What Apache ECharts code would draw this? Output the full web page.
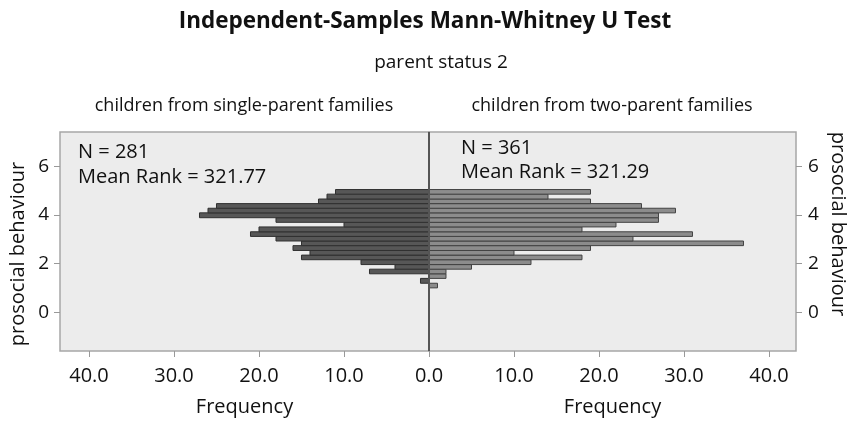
<!DOCTYPE html>
<html>
<head>
<meta charset="utf-8">
<script src="https://cdn.jsdelivr.net/npm/echarts@6/dist/echarts.min.js"></script>
<style>html,body{margin:0;padding:0;background:#fff}#c{width:851px;height:423px}</style>
</head>
<body>
<div id="c"></div>
<script>
// bin edges of prosocial behaviour (bottom to top)
const binEdges = [1.00,1.19,1.39,1.58,1.77,1.96,2.16,2.35,2.54,2.74,2.93,3.12,3.31,3.51,3.70,3.89,4.09,4.28,4.47,4.66,4.86,5.05];
// frequencies per bin (bottom to top)
const singleParent = [0,1,0,7,4,8,15,14,16,15,18,21,20,10,18,27,26,25,13,12,11];
const twoParent    = [1,0,2,2,5,12,18,10,19,37,24,31,18,22,27,27,29,25,19,14,19];
const xTicks = [0,10,20,30,40];
const yTicks = [0,2,4,6];
const groupNames = ['children from single-parent families','children from two-parent families'];
const groupN = [281,361];
const groupMeanRank = ['321.77','321.29'];

const FONT = 'Open Sans';
const chart = echarts.init(document.getElementById('c'));

function mk(counts){
  return counts.map((c,i)=>[c, binEdges[i], binEdges[i+1]]);
}
function rend(fill, stroke){
  return function(params, api){
    const c = api.value(0), lo = api.value(1), hi = api.value(2);
    const p0 = api.coord([0, hi]);
    const p1 = api.coord([c, lo]);
    return {
      type:'rect',
      shape:{x:Math.min(p0[0],p1[0]), y:p0[1], width:Math.abs(p1[0]-p0[0]), height:p1[1]-p0[1]},
      style:{fill:fill, stroke:stroke, lineWidth:1}
    };
  };
}
const yMin = -1.6, yMax = 7.42;
const axCommonY = {
  type:'value', min:yMin, max:yMax,
  splitLine:{show:false}, axisLine:{show:false, onZero:false},
  axisTick:{show:true, length:6, customValues:yTicks, lineStyle:{color:'#999'}},
  axisLabel:{customValues:yTicks, fontFamily:FONT, fontSize:19, color:'#111'}
};
const axCommonX = {
  type:'value', min:0,
  splitLine:{show:false}, axisLine:{show:false, onZero:false},
  axisTick:{show:true, length:6, customValues:xTicks, lineStyle:{color:'#999'}},
  axisLabel:{customValues:xTicks, fontFamily:FONT, fontSize:20, color:'#111', margin:15, formatter:v=>v.toFixed(1)},
  name:'Frequency', nameLocation:'middle', nameGap:46,
  nameTextStyle:{fontFamily:FONT, fontSize:20, color:'#111'}
};
const option = {
  backgroundColor:'#fff',
  animation:false,
  grid:[
    {left:60, top:132, width:369, height:219, show:true, backgroundColor:'#ececec', borderColor:'#a6a6a6', borderWidth:1.5},
    {left:429, top:132, width:367, height:219, show:true, backgroundColor:'#ececec', borderColor:'#a6a6a6', borderWidth:1.5}
  ],
  xAxis:[
    Object.assign({}, axCommonX, {gridIndex:0, max:43.41, inverse:true}),
    Object.assign({}, axCommonX, {gridIndex:1, max:43.18,
      axisLabel:Object.assign({}, axCommonX.axisLabel, {customValues:xTicks.filter(v=>v>0)})})
  ],
  yAxis:[
    Object.assign({}, axCommonY, {gridIndex:0, position:'left',
      axisLabel:Object.assign({}, axCommonY.axisLabel, {margin:11})}),
    Object.assign({}, axCommonY, {gridIndex:1, position:'right',
      axisLabel:Object.assign({}, axCommonY.axisLabel, {margin:12})})
  ],
  series:[
    {type:'custom', xAxisIndex:0, yAxisIndex:0, renderItem:rend('#575757','#303030'), data:mk(singleParent), encode:{x:0, y:[1,2]}, silent:true},
    {type:'custom', xAxisIndex:1, yAxisIndex:1, renderItem:rend('#8c8c8c','#424242'), data:mk(twoParent), encode:{x:0, y:[1,2]}, silent:true,
      markLine:{silent:true, symbol:['none','none'], label:{show:false}, lineStyle:{color:'#555', width:2, type:'solid'}, data:[{xAxis:0}]}}
  ],
  graphic:[
    {type:'text', x:425, y:21.5, style:{text:'Independent-Samples Mann-Whitney U Test', font:'bold 22.5px "'+FONT+'"', fill:'#111', textAlign:'center', textVerticalAlign:'middle'}},
    {type:'text', x:441, y:63, style:{text:'parent status 2', font:'19px "'+FONT+'"', fill:'#111', textAlign:'center', textVerticalAlign:'middle'}},
    {type:'text', x:244, y:106, style:{text:groupNames[0], font:'18px "'+FONT+'"', fill:'#111', textAlign:'center', textVerticalAlign:'middle'}},
    {type:'text', x:612, y:106, style:{text:groupNames[1], font:'18px "'+FONT+'"', fill:'#111', textAlign:'center', textVerticalAlign:'middle'}},
    {type:'text', x:78, y:152, style:{text:'N = '+groupN[0], font:'20px "'+FONT+'"', fill:'#111', textAlign:'left', textVerticalAlign:'middle'}},
    {type:'text', x:78, y:177, style:{text:'Mean Rank = '+groupMeanRank[0], font:'20px "'+FONT+'"', fill:'#111', textAlign:'left', textVerticalAlign:'middle'}},
    {type:'text', x:461, y:148, style:{text:'N = '+groupN[1], font:'20px "'+FONT+'"', fill:'#111', textAlign:'left', textVerticalAlign:'middle'}},
    {type:'text', x:461, y:172, style:{text:'Mean Rank = '+groupMeanRank[1], font:'20px "'+FONT+'"', fill:'#111', textAlign:'left', textVerticalAlign:'middle'}},
    {type:'text', x:18, y:254, rotation:Math.PI/2, style:{text:'prosocial behaviour', font:'20px "'+FONT+'"', fill:'#111', textAlign:'center', textVerticalAlign:'middle'}},
    {type:'text', x:838, y:224, rotation:-Math.PI/2, style:{text:'prosocial behaviour', font:'20px "'+FONT+'"', fill:'#111', textAlign:'center', textVerticalAlign:'middle'}}
  ]
};
chart.setOption(option);
</script>
</body>
</html>
